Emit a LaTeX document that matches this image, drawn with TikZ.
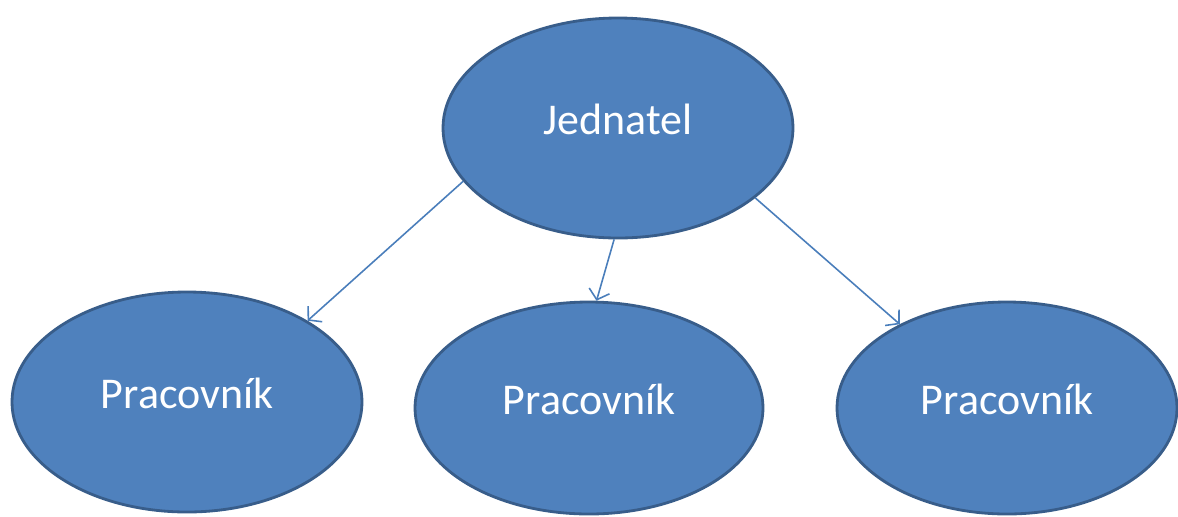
\documentclass[tikz,border=0pt]{standalone}
\usepackage{fontspec}
\setmainfont{Carlito}
\definecolor{bossblue}{RGB}{79, 129, 189}
\definecolor{rimblue}{RGB}{56, 93, 138}
\definecolor{linkblue}{RGB}{74, 126, 187}
\usetikzlibrary{shapes.geometric, arrows.meta}

\begin{document}
\begin{tikzpicture}[
    role/.style={ellipse, draw=rimblue, fill=bossblue, line width=0.8pt,
      minimum width=3.5cm, minimum height=2.12cm, inner sep=0pt,
      text=white, font=\fontsize{12.5}{15}\selectfont,
      text height=0.32cm, text depth=0.2cm},
    link/.style={draw=linkblue, line width=0.45pt,
      -{Straight Barb[length=2.6pt, width=6pt]}}
  ]
  \useasboundingbox (0, 0) rectangle (11.78, -5.16);

  % Jednatel
  \node[role, minimum height=2.2cm] (boss) at (6.18, -1.28) {Jednatel};

  % Pracovnici
  \node[role, minimum height=2.2cm] (worker1) at (1.87, -4.02) {Pracovník};
  \node[role, minimum width=3.48cm] (worker2) at (5.89, -4.08) {Pracovník};
  \node[role, minimum width=3.4cm] (worker3) at (10.07, -4.08) {Pracovník};

  \draw[link] (boss.199) -- (worker1.34);
  \draw[link] (boss.268) -- (worker2.86);
  \draw[link] (boss.333) -- (worker3.142);
\end{tikzpicture}
\end{document}
